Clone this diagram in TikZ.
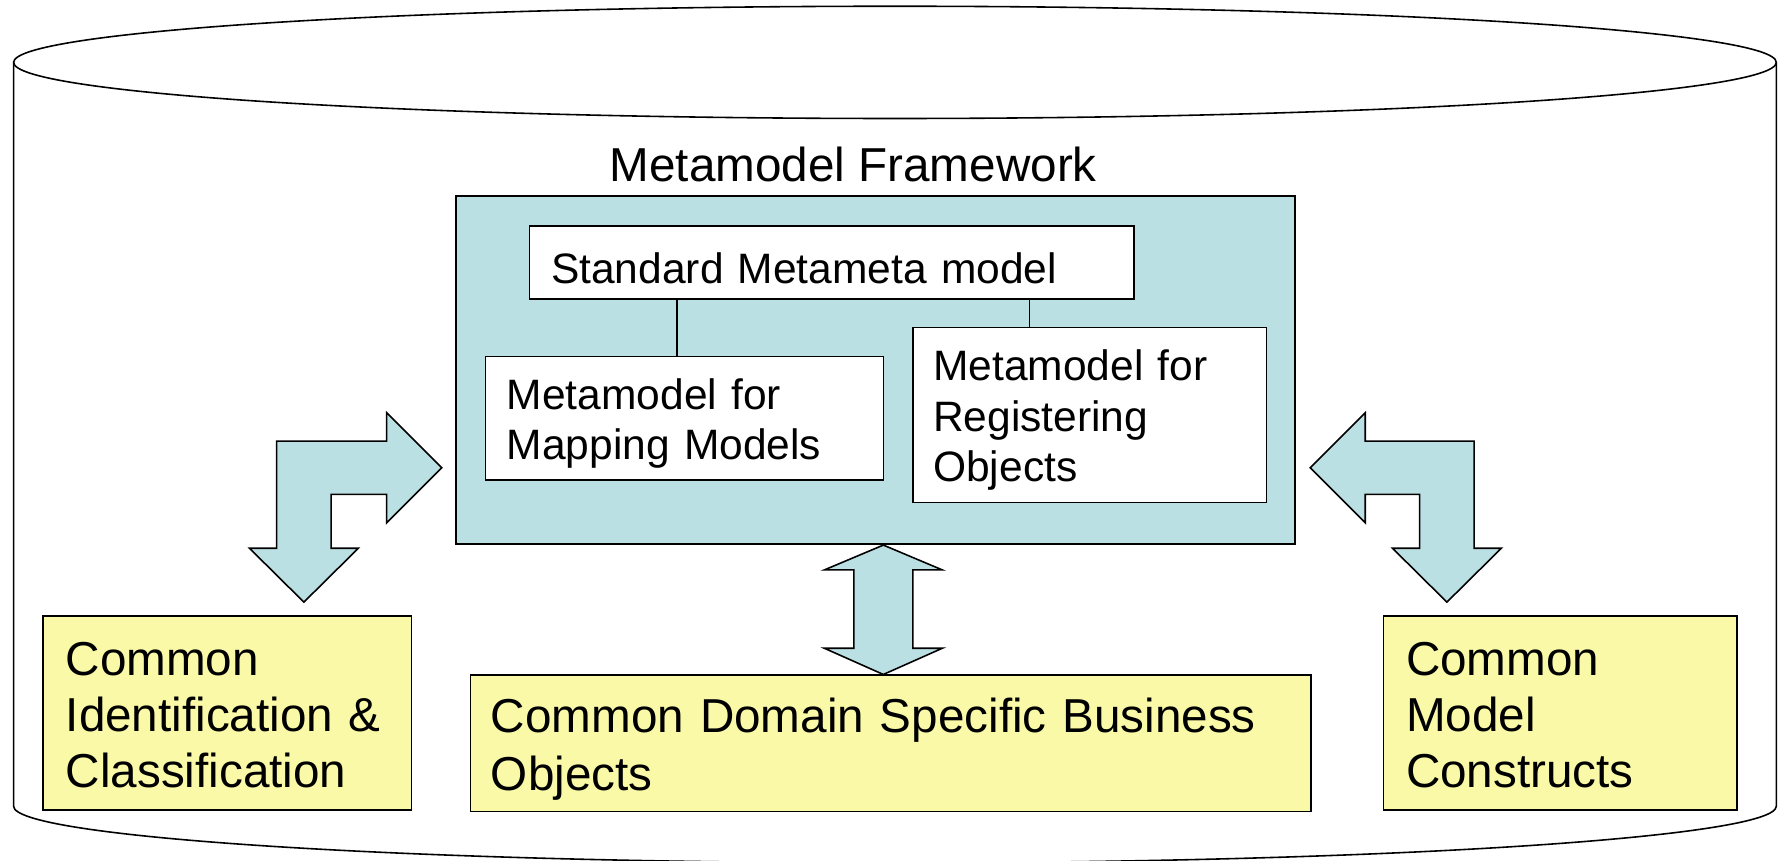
\documentclass[tikz,border=0pt]{standalone}
\usepackage{fontspec}
\setmainfont{Liberation Sans}
\definecolor{tealfill}{RGB}{187,224,227}
\definecolor{yelfill}{RGB}{249,249,168}
% line struts: height = ascent part, depth = rest of the line pitch
\newcommand{\ystr}{\rule[-8.5pt]{0pt}{49.5pt}}
\newcommand{\wstr}{\rule[-8pt]{0pt}{44.5pt}}
\newcommand{\sstr}{\rule[-4pt]{0pt}{44.5pt}}
\begin{document}
\begin{tikzpicture}[x=1pt,y=-1pt, line join=miter,
  bigtext/.style={font=\fontsize{42}{49.5}\selectfont},
  smalltext/.style={font=\fontsize{37.5}{44.5}\selectfont},
  ybox/.style={draw=black, line width=1.4pt, fill=yelfill, bigtext, align=left, inner ysep=0pt},
  wbox/.style={draw=black, line width=1.4pt, fill=white, smalltext, align=left, inner ysep=0pt},
  fatarrow/.style={draw=black, line width=1.4pt, fill=tealfill},
  cyl/.style={draw=black, line width=1.4pt}]
\useasboundingbox (0,0) rectangle (1568,759);
\begin{scope}
\clip (0,0) rectangle (1568,759);
\draw[cyl] (12,55) -- (12,711)
  .. controls (12,738.6) and (360,761) .. (789.25,761)
  .. controls (1218.5,761) and (1566.5,738.6) .. (1566.5,711) -- (1566.5,55);
\draw[cyl] (789.25,55) ellipse[x radius=777.25pt, y radius=49.5pt];
\end{scope}

% framework
\node[fatarrow, minimum width=740pt, minimum height=307pt, inner sep=0pt] (fw) at (772,326.5) {};
\node[bigtext, anchor=base, inner sep=0pt] (fwt) at (752.5,160) {Metamodel Framework};

\node[wbox, text width=495pt, inner xsep=19pt, minimum height=64pt] (std) at (733.5,231.5) {\sstr Standard Metameta model};
\node[wbox, text width=313pt, inner xsep=19pt, minimum height=109pt] (map) at (603.5,369) {\wstr Metamodel for\\\wstr Mapping Models};
\node[wbox, text width=276pt, inner xsep=18pt, minimum height=154pt] (reg) at (961,366) {\wstr Metamodel for\\\wstr Registering\\\wstr Objects};

\coordinate (c1) at (597,0);
\coordinate (c2) at (908,0);
\draw[line width=1.4pt] (std.south -| c1) -- (map.north -| c1);
\draw[line width=1.4pt] (std.south -| c2) -- (reg.north -| c2);

% yellow boxes
\node[ybox, text width=285pt, inner xsep=20pt, minimum height=171pt] (cic) at (200.5,628.8) {\ystr Common\\\ystr Identification \&\\\ystr Classification};
\node[ybox, text width=705pt, inner xsep=18pt, minimum height=120pt] (dom) at (785.5,655.5) {\ystr Common Domain Specific Business\\\ystr Objects};
\node[ybox, text width=272pt, inner xsep=20pt, minimum height=171pt] (cmc) at (1376,628.8) {\ystr Common\\\ystr Model\\\ystr Constructs};

% bent arrows
\draw[fatarrow] (389.5,412.5) -- (341,364) -- (341,389) -- (244,389) -- (244,483.5) -- (220,483.5)
  -- (268,531) -- (316,483.5) -- (292,483.5) -- (292,436) -- (341,436) -- (341,461) -- cycle;
\draw[fatarrow] (1155.5,412.5) -- (1204,364) -- (1204,389) -- (1300,389) -- (1300,483.5) -- (1324,483.5)
  -- (1276,531) -- (1228,483.5) -- (1252,483.5) -- (1252,436) -- (1204,436) -- (1204,461) -- cycle;

% vertical double arrow
\coordinate (ax) at (779,0);
\draw[fatarrow] (fw.south -| ax) -- (831,502.6) -- (805,502.6) -- (805,571.7) -- (831,571.7)
  -- (dom.north -| ax) -- (727,571.7) -- (753,571.7) -- (753,502.6) -- (727,502.6) -- cycle;
\end{tikzpicture}
\end{document}
